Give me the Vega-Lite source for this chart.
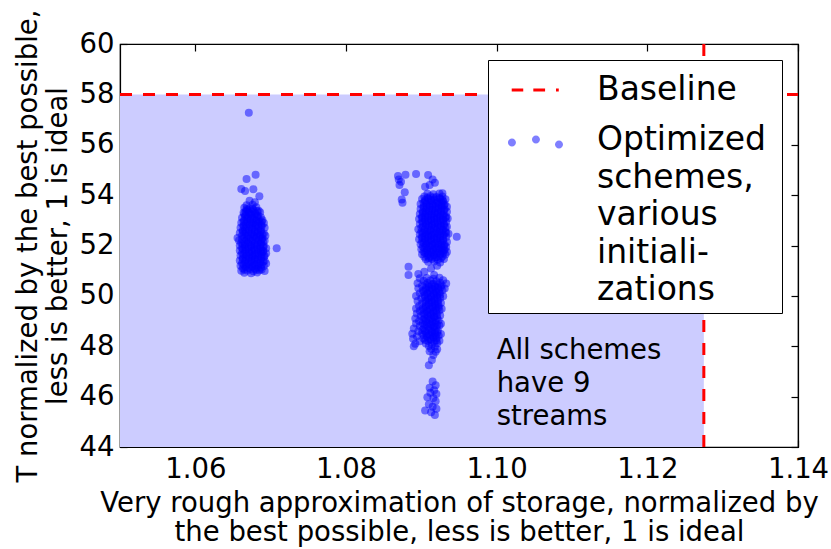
{
  "$schema": "https://vega.github.io/schema/vega-lite/v6.json",
  "width": 678,
  "height": 403,
  "autosize": {"type": "none"},
  "padding": {"left": 120, "top": 44, "right": 33, "bottom": 102},
  "background": "white",
  "config": {
    "font": "DejaVu Sans",
    "view": {"stroke": "black", "strokeWidth": 1.2},
    "axis": {"grid": false, "domainColor": "black", "tickColor": "black", "labelColor": "black", "titleColor": "black", "labelFont": "DejaVu Sans", "titleFont": "DejaVu Sans", "labelFontSize": 27.5, "titleFontSize": 27.5, "titleFontWeight": "normal", "domainWidth": 1.2, "tickWidth": 1.2}
  },
  "datasets": {
    "pts": [
      {"x":1.0671,"y":57.27},{"x":1.0680,"y":54.81},{"x":1.0668,"y":54.64},{"x":1.0661,"y":54.24},{"x":1.0666,"y":54.16},{"x":1.0677,"y":54.23},{"x":1.0685,"y":53.96},{"x":1.0708,"y":51.89},{"x":1.0672,"y":53.78},{"x":1.0679,"y":53.72},
      {"x":1.0668,"y":53.60},{"x":1.0676,"y":53.62},
      {"x":1.0665,"y":53.50},{"x":1.0672,"y":53.48},{"x":1.0681,"y":53.52},
      {"x":1.0669,"y":53.40},{"x":1.0677,"y":53.41},{"x":1.0684,"y":53.38},
      {"x":1.0664,"y":53.30},{"x":1.0671,"y":53.31},{"x":1.0679,"y":53.29},{"x":1.0686,"y":53.32},
      {"x":1.0667,"y":53.20},{"x":1.0675,"y":53.22},{"x":1.0683,"y":53.19},
      {"x":1.0662,"y":53.10},{"x":1.0670,"y":53.11},{"x":1.0678,"y":53.08},{"x":1.0687,"y":53.12},
      {"x":1.0665,"y":53.00},{"x":1.0673,"y":53.02},{"x":1.0681,"y":52.99},{"x":1.0689,"y":53.01},
      {"x":1.0661,"y":52.90},{"x":1.0669,"y":52.91},{"x":1.0677,"y":52.88},{"x":1.0685,"y":52.92},{"x":1.0691,"y":52.89},
      {"x":1.0664,"y":52.80},{"x":1.0672,"y":52.82},{"x":1.0680,"y":52.79},{"x":1.0688,"y":52.81},
      {"x":1.0660,"y":52.70},{"x":1.0668,"y":52.71},{"x":1.0676,"y":52.69},{"x":1.0684,"y":52.72},{"x":1.0692,"y":52.70},
      {"x":1.0663,"y":52.60},{"x":1.0671,"y":52.61},{"x":1.0679,"y":52.58},{"x":1.0687,"y":52.62},
      {"x":1.0659,"y":52.50},{"x":1.0667,"y":52.52},{"x":1.0675,"y":52.49},{"x":1.0683,"y":52.51},{"x":1.0691,"y":52.48},
      {"x":1.0662,"y":52.40},{"x":1.0670,"y":52.41},{"x":1.0678,"y":52.38},{"x":1.0686,"y":52.42},{"x":1.0693,"y":52.39},
      {"x":1.0656,"y":52.30},{"x":1.0665,"y":52.31},{"x":1.0673,"y":52.29},{"x":1.0681,"y":52.32},{"x":1.0689,"y":52.28},
      {"x":1.0658,"y":52.20},{"x":1.0668,"y":52.21},{"x":1.0676,"y":52.18},{"x":1.0684,"y":52.22},{"x":1.0692,"y":52.19},
      {"x":1.0661,"y":52.10},{"x":1.0670,"y":52.11},{"x":1.0679,"y":52.08},{"x":1.0687,"y":52.12},
      {"x":1.0659,"y":52.00},{"x":1.0666,"y":52.02},{"x":1.0674,"y":51.99},{"x":1.0682,"y":52.01},{"x":1.0691,"y":51.98},
      {"x":1.0662,"y":51.90},{"x":1.0670,"y":51.91},{"x":1.0678,"y":51.88},{"x":1.0686,"y":51.92},{"x":1.0694,"y":51.89},
      {"x":1.0659,"y":51.80},{"x":1.0667,"y":51.81},{"x":1.0675,"y":51.78},{"x":1.0683,"y":51.82},{"x":1.0690,"y":51.79},
      {"x":1.0662,"y":51.70},{"x":1.0671,"y":51.71},{"x":1.0679,"y":51.68},{"x":1.0687,"y":51.72},{"x":1.0694,"y":51.69},
      {"x":1.0660,"y":51.60},{"x":1.0668,"y":51.61},{"x":1.0676,"y":51.58},{"x":1.0684,"y":51.62},{"x":1.0692,"y":51.59},
      {"x":1.0663,"y":51.50},{"x":1.0671,"y":51.51},{"x":1.0679,"y":51.48},{"x":1.0688,"y":51.52},
      {"x":1.0659,"y":51.40},{"x":1.0667,"y":51.41},{"x":1.0675,"y":51.38},{"x":1.0683,"y":51.42},{"x":1.0692,"y":51.39},
      {"x":1.0662,"y":51.30},{"x":1.0670,"y":51.31},{"x":1.0678,"y":51.28},{"x":1.0686,"y":51.32},{"x":1.0694,"y":51.29},
      {"x":1.0660,"y":51.20},{"x":1.0668,"y":51.21},{"x":1.0676,"y":51.18},{"x":1.0684,"y":51.22},{"x":1.0691,"y":51.19},
      {"x":1.0663,"y":51.10},{"x":1.0671,"y":51.11},{"x":1.0679,"y":51.08},{"x":1.0687,"y":51.12},
      {"x":1.0661,"y":51.00},{"x":1.0669,"y":51.01},{"x":1.0677,"y":50.98},{"x":1.0685,"y":51.02},{"x":1.0692,"y":50.99},
      {"x":1.0665,"y":50.92},{"x":1.0674,"y":50.90},{"x":1.0682,"y":50.93},
      {"x":1.0668,"y":53.45},{"x":1.0676,"y":53.46},
      {"x":1.0667,"y":53.35},{"x":1.0675,"y":53.34},{"x":1.0682,"y":53.36},
      {"x":1.0665,"y":53.25},{"x":1.0672,"y":53.26},{"x":1.0680,"y":53.24},
      {"x":1.0666,"y":53.15},{"x":1.0674,"y":53.16},{"x":1.0682,"y":53.14},
      {"x":1.0668,"y":53.05},{"x":1.0676,"y":53.06},{"x":1.0684,"y":53.04},
      {"x":1.0664,"y":52.95},{"x":1.0673,"y":52.96},{"x":1.0681,"y":52.94},{"x":1.0688,"y":52.95},
      {"x":1.0667,"y":52.85},{"x":1.0675,"y":52.86},{"x":1.0683,"y":52.84},
      {"x":1.0664,"y":52.75},{"x":1.0672,"y":52.76},{"x":1.0680,"y":52.74},{"x":1.0688,"y":52.75},
      {"x":1.0666,"y":52.65},{"x":1.0675,"y":52.66},{"x":1.0683,"y":52.64},
      {"x":1.0663,"y":52.55},{"x":1.0671,"y":52.56},{"x":1.0679,"y":52.54},{"x":1.0687,"y":52.55},
      {"x":1.0665,"y":52.45},{"x":1.0674,"y":52.46},{"x":1.0682,"y":52.44},{"x":1.0689,"y":52.45},
      {"x":1.0668,"y":52.35},{"x":1.0677,"y":52.36},{"x":1.0685,"y":52.34},
      {"x":1.0662,"y":52.25},{"x":1.0671,"y":52.26},{"x":1.0680,"y":52.24},{"x":1.0688,"y":52.25},
      {"x":1.0665,"y":52.15},{"x":1.0674,"y":52.16},{"x":1.0683,"y":52.14},{"x":1.0690,"y":52.15},
      {"x":1.0663,"y":52.05},{"x":1.0671,"y":52.06},{"x":1.0679,"y":52.04},{"x":1.0687,"y":52.05},
      {"x":1.0666,"y":51.95},{"x":1.0674,"y":51.96},{"x":1.0682,"y":51.94},{"x":1.0690,"y":51.95},
      {"x":1.0663,"y":51.85},{"x":1.0671,"y":51.86},{"x":1.0679,"y":51.84},{"x":1.0687,"y":51.85},
      {"x":1.0666,"y":51.75},{"x":1.0675,"y":51.76},{"x":1.0683,"y":51.74},{"x":1.0690,"y":51.75},
      {"x":1.0664,"y":51.65},{"x":1.0672,"y":51.66},{"x":1.0680,"y":51.64},{"x":1.0688,"y":51.65},
      {"x":1.0667,"y":51.55},{"x":1.0675,"y":51.56},{"x":1.0683,"y":51.54},{"x":1.0691,"y":51.55},
      {"x":1.0663,"y":51.45},{"x":1.0671,"y":51.46},{"x":1.0679,"y":51.44},{"x":1.0687,"y":51.45},
      {"x":1.0666,"y":51.35},{"x":1.0674,"y":51.36},{"x":1.0682,"y":51.34},{"x":1.0690,"y":51.35},
      {"x":1.0664,"y":51.25},{"x":1.0672,"y":51.26},{"x":1.0680,"y":51.24},{"x":1.0688,"y":51.25},
      {"x":1.0667,"y":51.15},{"x":1.0675,"y":51.16},{"x":1.0683,"y":51.14},
      {"x":1.0665,"y":51.05},{"x":1.0673,"y":51.06},{"x":1.0681,"y":51.04},{"x":1.0688,"y":51.05},

      {"x":1.0869,"y":54.76},{"x":1.0879,"y":54.81},{"x":1.0893,"y":54.84},{"x":1.0871,"y":54.40},{"x":1.0873,"y":54.53},{"x":1.0878,"y":54.11},{"x":1.0874,"y":53.83},{"x":1.0875,"y":53.70},{"x":1.0870,"y":54.62},
      {"x":1.0909,"y":54.80},{"x":1.0911,"y":54.40},{"x":1.0918,"y":54.49},{"x":1.0905,"y":54.33},{"x":1.0928,"y":54.07},{"x":1.0915,"y":54.62},
      {"x":1.0947,"y":52.35},
      {"x":1.0883,"y":51.16},{"x":1.0883,"y":50.83},{"x":1.0896,"y":50.87},{"x":1.0904,"y":50.96},{"x":1.0917,"y":50.83},{"x":1.0913,"y":51.09},{"x":1.0921,"y":51.20},
      {"x":1.0908,"y":54.05},{"x":1.0916,"y":54.03},{"x":1.0924,"y":54.06},
      {"x":1.0904,"y":53.95},{"x":1.0912,"y":53.96},{"x":1.0920,"y":53.93},{"x":1.0928,"y":53.95},
      {"x":1.0901,"y":53.85},{"x":1.0909,"y":53.86},{"x":1.0917,"y":53.83},{"x":1.0925,"y":53.86},{"x":1.0932,"y":53.84},
      {"x":1.0905,"y":53.75},{"x":1.0913,"y":53.76},{"x":1.0921,"y":53.73},{"x":1.0929,"y":53.76},
      {"x":1.0899,"y":53.65},{"x":1.0907,"y":53.66},{"x":1.0915,"y":53.63},{"x":1.0923,"y":53.66},{"x":1.0931,"y":53.64},
      {"x":1.0903,"y":53.55},{"x":1.0911,"y":53.56},{"x":1.0919,"y":53.53},{"x":1.0927,"y":53.56},{"x":1.0934,"y":53.54},
      {"x":1.0899,"y":53.45},{"x":1.0907,"y":53.46},{"x":1.0915,"y":53.43},{"x":1.0923,"y":53.46},{"x":1.0931,"y":53.44},
      {"x":1.0902,"y":53.35},{"x":1.0910,"y":53.36},{"x":1.0918,"y":53.33},{"x":1.0926,"y":53.36},{"x":1.0934,"y":53.34},
      {"x":1.0898,"y":53.25},{"x":1.0906,"y":53.26},{"x":1.0914,"y":53.23},{"x":1.0922,"y":53.26},{"x":1.0930,"y":53.24},
      {"x":1.0901,"y":53.15},{"x":1.0909,"y":53.16},{"x":1.0917,"y":53.13},{"x":1.0925,"y":53.16},{"x":1.0933,"y":53.14},
      {"x":1.0897,"y":53.05},{"x":1.0905,"y":53.06},{"x":1.0913,"y":53.03},{"x":1.0921,"y":53.06},{"x":1.0929,"y":53.04},{"x":1.0935,"y":53.07},
      {"x":1.0901,"y":52.95},{"x":1.0909,"y":52.96},{"x":1.0917,"y":52.93},{"x":1.0925,"y":52.96},{"x":1.0933,"y":52.94},
      {"x":1.0898,"y":52.85},{"x":1.0906,"y":52.86},{"x":1.0914,"y":52.83},{"x":1.0922,"y":52.86},{"x":1.0930,"y":52.84},
      {"x":1.0902,"y":52.75},{"x":1.0910,"y":52.76},{"x":1.0918,"y":52.73},{"x":1.0926,"y":52.76},{"x":1.0934,"y":52.74},
      {"x":1.0896,"y":52.65},{"x":1.0905,"y":52.66},{"x":1.0913,"y":52.63},{"x":1.0921,"y":52.66},{"x":1.0929,"y":52.64},
      {"x":1.0900,"y":52.55},{"x":1.0908,"y":52.56},{"x":1.0916,"y":52.53},{"x":1.0924,"y":52.56},{"x":1.0932,"y":52.54},
      {"x":1.0898,"y":52.45},{"x":1.0906,"y":52.46},{"x":1.0914,"y":52.43},{"x":1.0922,"y":52.46},{"x":1.0930,"y":52.44},{"x":1.0936,"y":52.47},
      {"x":1.0901,"y":52.35},{"x":1.0909,"y":52.36},{"x":1.0917,"y":52.33},{"x":1.0925,"y":52.36},{"x":1.0933,"y":52.34},
      {"x":1.0897,"y":52.25},{"x":1.0905,"y":52.26},{"x":1.0913,"y":52.23},{"x":1.0921,"y":52.26},{"x":1.0929,"y":52.24},
      {"x":1.0901,"y":52.15},{"x":1.0909,"y":52.16},{"x":1.0917,"y":52.13},{"x":1.0925,"y":52.16},{"x":1.0934,"y":52.14},
      {"x":1.0899,"y":52.05},{"x":1.0907,"y":52.06},{"x":1.0915,"y":52.03},{"x":1.0923,"y":52.06},{"x":1.0931,"y":52.04},
      {"x":1.0902,"y":51.95},{"x":1.0910,"y":51.96},{"x":1.0918,"y":51.93},{"x":1.0926,"y":51.96},{"x":1.0933,"y":51.94},
      {"x":1.0900,"y":51.85},{"x":1.0908,"y":51.86},{"x":1.0916,"y":51.83},{"x":1.0924,"y":51.86},{"x":1.0931,"y":51.84},
      {"x":1.0903,"y":51.75},{"x":1.0911,"y":51.76},{"x":1.0919,"y":51.73},{"x":1.0927,"y":51.76},{"x":1.0934,"y":51.74},
      {"x":1.0901,"y":51.65},{"x":1.0909,"y":51.66},{"x":1.0917,"y":51.63},{"x":1.0925,"y":51.66},{"x":1.0932,"y":51.64},
      {"x":1.0904,"y":51.55},{"x":1.0912,"y":51.56},{"x":1.0920,"y":51.53},{"x":1.0928,"y":51.56},
      {"x":1.0906,"y":51.45},{"x":1.0914,"y":51.46},{"x":1.0922,"y":51.43},{"x":1.0930,"y":51.46},
      {"x":1.0909,"y":51.35},{"x":1.0917,"y":51.36},{"x":1.0925,"y":51.33},
      {"x":1.0908,"y":53.90},{"x":1.0916,"y":53.91},{"x":1.0924,"y":53.89},
      {"x":1.0905,"y":53.80},{"x":1.0913,"y":53.81},{"x":1.0921,"y":53.79},{"x":1.0928,"y":53.80},
      {"x":1.0903,"y":53.70},{"x":1.0911,"y":53.71},{"x":1.0919,"y":53.69},{"x":1.0927,"y":53.70},
      {"x":1.0907,"y":53.60},{"x":1.0915,"y":53.61},{"x":1.0923,"y":53.59},{"x":1.0930,"y":53.60},
      {"x":1.0903,"y":53.50},{"x":1.0911,"y":53.51},{"x":1.0919,"y":53.49},{"x":1.0927,"y":53.50},
      {"x":1.0906,"y":53.40},{"x":1.0914,"y":53.41},{"x":1.0922,"y":53.39},{"x":1.0930,"y":53.40},
      {"x":1.0902,"y":53.30},{"x":1.0910,"y":53.31},{"x":1.0918,"y":53.29},{"x":1.0926,"y":53.30},
      {"x":1.0905,"y":53.20},{"x":1.0913,"y":53.21},{"x":1.0921,"y":53.19},{"x":1.0929,"y":53.20},
      {"x":1.0901,"y":53.10},{"x":1.0909,"y":53.11},{"x":1.0917,"y":53.09},{"x":1.0925,"y":53.10},{"x":1.0932,"y":53.11},
      {"x":1.0905,"y":53.00},{"x":1.0913,"y":53.01},{"x":1.0921,"y":52.99},{"x":1.0929,"y":53.00},
      {"x":1.0902,"y":52.90},{"x":1.0910,"y":52.91},{"x":1.0918,"y":52.89},{"x":1.0926,"y":52.90},
      {"x":1.0906,"y":52.80},{"x":1.0914,"y":52.81},{"x":1.0922,"y":52.79},{"x":1.0930,"y":52.80},
      {"x":1.0900,"y":52.70},{"x":1.0909,"y":52.71},{"x":1.0917,"y":52.69},{"x":1.0925,"y":52.70},{"x":1.0932,"y":52.71},
      {"x":1.0904,"y":52.60},{"x":1.0912,"y":52.61},{"x":1.0920,"y":52.59},{"x":1.0928,"y":52.60},
      {"x":1.0902,"y":52.50},{"x":1.0910,"y":52.51},{"x":1.0918,"y":52.49},{"x":1.0926,"y":52.50},{"x":1.0933,"y":52.51},
      {"x":1.0905,"y":52.40},{"x":1.0913,"y":52.41},{"x":1.0921,"y":52.39},{"x":1.0929,"y":52.40},
      {"x":1.0901,"y":52.30},{"x":1.0909,"y":52.31},{"x":1.0917,"y":52.29},{"x":1.0925,"y":52.30},
      {"x":1.0905,"y":52.20},{"x":1.0913,"y":52.21},{"x":1.0921,"y":52.19},{"x":1.0929,"y":52.20},
      {"x":1.0903,"y":52.10},{"x":1.0911,"y":52.11},{"x":1.0919,"y":52.09},{"x":1.0927,"y":52.10},
      {"x":1.0906,"y":52.00},{"x":1.0914,"y":52.01},{"x":1.0922,"y":51.99},{"x":1.0930,"y":52.00},
      {"x":1.0904,"y":51.90},{"x":1.0912,"y":51.91},{"x":1.0920,"y":51.89},{"x":1.0928,"y":51.90},
      {"x":1.0907,"y":51.80},{"x":1.0915,"y":51.81},{"x":1.0923,"y":51.79},{"x":1.0930,"y":51.80},
      {"x":1.0905,"y":51.70},{"x":1.0913,"y":51.71},{"x":1.0921,"y":51.69},{"x":1.0929,"y":51.70},
      {"x":1.0908,"y":51.60},{"x":1.0916,"y":51.61},{"x":1.0924,"y":51.59},
      {"x":1.0910,"y":51.50},{"x":1.0918,"y":51.51},{"x":1.0926,"y":51.49},

      {"x":1.0898,"y":50.70},{"x":1.0907,"y":50.71},{"x":1.0916,"y":50.68},{"x":1.0924,"y":50.72},
      {"x":1.0903,"y":50.60},{"x":1.0912,"y":50.61},{"x":1.0920,"y":50.58},{"x":1.0929,"y":50.62},
      {"x":1.0895,"y":50.50},{"x":1.0908,"y":50.51},{"x":1.0916,"y":50.48},{"x":1.0925,"y":50.52},{"x":1.0933,"y":50.49},
      {"x":1.0901,"y":50.40},{"x":1.0910,"y":50.41},{"x":1.0918,"y":50.38},{"x":1.0927,"y":50.42},
      {"x":1.0896,"y":50.30},{"x":1.0906,"y":50.31},{"x":1.0914,"y":50.28},{"x":1.0922,"y":50.32},{"x":1.0931,"y":50.29},
      {"x":1.0902,"y":50.20},{"x":1.0911,"y":50.21},{"x":1.0919,"y":50.18},{"x":1.0928,"y":50.22},
      {"x":1.0898,"y":50.10},{"x":1.0908,"y":50.11},{"x":1.0916,"y":50.08},{"x":1.0924,"y":50.12},
      {"x":1.0893,"y":50.00},{"x":1.0904,"y":50.01},{"x":1.0913,"y":49.98},{"x":1.0921,"y":50.02},{"x":1.0929,"y":49.99},
      {"x":1.0900,"y":49.90},{"x":1.0909,"y":49.91},{"x":1.0917,"y":49.88},{"x":1.0925,"y":49.92},
      {"x":1.0895,"y":49.80},{"x":1.0905,"y":49.81},{"x":1.0914,"y":49.78},{"x":1.0922,"y":49.82},
      {"x":1.0901,"y":49.70},{"x":1.0910,"y":49.71},{"x":1.0918,"y":49.68},{"x":1.0926,"y":49.72},
      {"x":1.0897,"y":49.60},{"x":1.0906,"y":49.61},{"x":1.0915,"y":49.58},{"x":1.0923,"y":49.62},
      {"x":1.0893,"y":49.50},{"x":1.0902,"y":49.51},{"x":1.0911,"y":49.48},{"x":1.0919,"y":49.52},{"x":1.0927,"y":49.49},
      {"x":1.0898,"y":49.40},{"x":1.0907,"y":49.41},{"x":1.0916,"y":49.38},{"x":1.0924,"y":49.42},
      {"x":1.0894,"y":49.30},{"x":1.0903,"y":49.31},{"x":1.0912,"y":49.28},{"x":1.0920,"y":49.32},
      {"x":1.0899,"y":49.20},{"x":1.0908,"y":49.21},{"x":1.0917,"y":49.18},{"x":1.0925,"y":49.22},
      {"x":1.0892,"y":49.10},{"x":1.0904,"y":49.11},{"x":1.0913,"y":49.08},{"x":1.0921,"y":49.12},
      {"x":1.0897,"y":49.00},{"x":1.0906,"y":49.01},{"x":1.0915,"y":48.98},{"x":1.0923,"y":49.02},
      {"x":1.0893,"y":48.90},{"x":1.0902,"y":48.91},{"x":1.0911,"y":48.88},{"x":1.0919,"y":48.92},{"x":1.0926,"y":48.89},
      {"x":1.0898,"y":48.80},{"x":1.0907,"y":48.81},{"x":1.0916,"y":48.78},{"x":1.0924,"y":48.82},
      {"x":1.0890,"y":48.70},{"x":1.0903,"y":48.71},{"x":1.0912,"y":48.68},{"x":1.0920,"y":48.72},
      {"x":1.0896,"y":48.60},{"x":1.0905,"y":48.61},{"x":1.0914,"y":48.58},{"x":1.0922,"y":48.62},
      {"x":1.0888,"y":48.50},{"x":1.0901,"y":48.51},{"x":1.0910,"y":48.48},{"x":1.0918,"y":48.52},{"x":1.0926,"y":48.49},
      {"x":1.0894,"y":48.40},{"x":1.0907,"y":48.41},{"x":1.0916,"y":48.38},{"x":1.0923,"y":48.42},
      {"x":1.0889,"y":48.30},{"x":1.0903,"y":48.31},{"x":1.0912,"y":48.28},{"x":1.0920,"y":48.32},
      {"x":1.0898,"y":48.20},{"x":1.0909,"y":48.21},{"x":1.0917,"y":48.18},{"x":1.0924,"y":48.22},
      {"x":1.0892,"y":48.10},{"x":1.0906,"y":48.11},{"x":1.0914,"y":48.08},{"x":1.0921,"y":48.12},
      {"x":1.0890,"y":48.00},{"x":1.0910,"y":48.01},{"x":1.0918,"y":47.98},
      {"x":1.0913,"y":47.90},{"x":1.0921,"y":47.88},
      {"x":1.0911,"y":47.80},{"x":1.0919,"y":47.78},
      {"x":1.0916,"y":47.65},{"x":1.0914,"y":47.45},{"x":1.0910,"y":47.25},
      {"x":1.0905,"y":50.45},{"x":1.0914,"y":50.46},{"x":1.0922,"y":50.44},
      {"x":1.0910,"y":50.35},{"x":1.0918,"y":50.36},{"x":1.0926,"y":50.34},
      {"x":1.0906,"y":50.25},{"x":1.0915,"y":50.26},{"x":1.0923,"y":50.24},
      {"x":1.0903,"y":50.15},{"x":1.0912,"y":50.16},{"x":1.0920,"y":50.14},
      {"x":1.0908,"y":50.05},{"x":1.0917,"y":50.06},{"x":1.0925,"y":50.04},
      {"x":1.0905,"y":49.95},{"x":1.0913,"y":49.96},{"x":1.0921,"y":49.94},
      {"x":1.0910,"y":49.85},{"x":1.0918,"y":49.86},
      {"x":1.0906,"y":49.75},{"x":1.0914,"y":49.76},{"x":1.0922,"y":49.74},
      {"x":1.0910,"y":49.65},{"x":1.0919,"y":49.66},
      {"x":1.0906,"y":49.55},{"x":1.0915,"y":49.56},{"x":1.0923,"y":49.54},
      {"x":1.0903,"y":49.45},{"x":1.0912,"y":49.46},{"x":1.0920,"y":49.44},
      {"x":1.0908,"y":49.35},{"x":1.0916,"y":49.36},
      {"x":1.0904,"y":49.25},{"x":1.0913,"y":49.26},{"x":1.0921,"y":49.24},
      {"x":1.0909,"y":49.15},{"x":1.0917,"y":49.16},
      {"x":1.0902,"y":49.05},{"x":1.0911,"y":49.06},{"x":1.0919,"y":49.04},
      {"x":1.0907,"y":48.95},{"x":1.0915,"y":48.96},
      {"x":1.0904,"y":48.85},{"x":1.0913,"y":48.86},{"x":1.0921,"y":48.84},
      {"x":1.0909,"y":48.75},{"x":1.0917,"y":48.76},
      {"x":1.0901,"y":48.65},{"x":1.0910,"y":48.66},{"x":1.0918,"y":48.64},
      {"x":1.0906,"y":48.55},{"x":1.0914,"y":48.56},{"x":1.0921,"y":48.54},
      {"x":1.0903,"y":48.45},{"x":1.0912,"y":48.46},{"x":1.0919,"y":48.44},
      {"x":1.0908,"y":48.35},{"x":1.0916,"y":48.36},
      {"x":1.0905,"y":48.25},{"x":1.0913,"y":48.26},{"x":1.0920,"y":48.24},

      {"x":1.0915,"y":46.60},{"x":1.0919,"y":46.45},{"x":1.0911,"y":46.35},{"x":1.0917,"y":46.25},{"x":1.0920,"y":46.10},{"x":1.0912,"y":46.15},
      {"x":1.0908,"y":45.98},{"x":1.0916,"y":45.95},{"x":1.0919,"y":45.82},{"x":1.0910,"y":45.70},{"x":1.0915,"y":45.60},{"x":1.0920,"y":45.52},
      {"x":1.0905,"y":45.45},{"x":1.0913,"y":45.38},{"x":1.0918,"y":45.27}
    ]
  },
  "resolve": {"axis": {"x": "independent", "y": "independent"}},
  "layer": [
    {
      "data": {"values": [{}]},
      "mark": {"type": "rect", "fill": "#ccccff"},
      "encoding": {
        "x": {"datum": 1.05, "type": "quantitative", "scale": {"domain": [1.05, 1.14], "nice": false, "zero": false},
          "axis": {"orient": "bottom", "values": [1.06, 1.08, 1.10, 1.12, 1.14], "format": ".2f", "tickSize": -7, "labelPadding": 15, "labelFlush": false, "labelOverlap": false,
            "title": ["Very rough approximation of storage, normalized by", "the best possible, less is better, 1 is ideal"], "titleLineHeight": 29, "titlePadding": 7}},
        "x2": {"datum": 1.1275},
        "y": {"datum": 44, "type": "quantitative", "scale": {"domain": [44, 60], "nice": false, "zero": false},
          "axis": {"orient": "left", "values": [44, 46, 48, 50, 52, 54, 56, 58, 60], "tickSize": -7, "labelPadding": 13, "labelFlush": false, "labelOverlap": false,
            "title": ["T normalized by the best possible,", "less is better, 1 is ideal"], "titleLineHeight": 30, "titlePadding": 7}},
        "y2": {"datum": 58}
      }
    },
    {
      "data": {"name": "pts"},
      "mark": {"type": "point", "filled": true, "shape": "circle", "size": 64, "opacity": 0.5, "strokeWidth": 0},
      "encoding": {
        "x": {"field": "x", "type": "quantitative", "axis": null},
        "y": {"field": "y", "type": "quantitative", "axis": null},
        "color": {"datum": "Optimized", "type": "nominal"}
      }
    },
    {
      "data": {"values": [{}]},
      "mark": {"type": "rule", "strokeDash": [12, 11], "strokeWidth": 3},
      "encoding": {
        "x": {"datum": 1.05, "type": "quantitative", "axis": null},
        "x2": {"datum": 1.14},
        "y": {"datum": 58, "type": "quantitative", "axis": null},
        "color": {"datum": "Baseline", "type": "nominal",
          "scale": {"domain": ["Baseline", "Optimized"], "range": ["#ff0000", "#0000ff"]},
          "legend": {
            "orient": "none", "legendX": 368, "legendY": 16,
            "title": " ", "titleOrient": "right", "titlePadding": 10, "titleFontSize": 1,
            "labelExpr": "datum.label == 'Baseline' ? 'Baseline' : ['Optimized','schemes,','various','initiali-','zations']",
            "labelFont": "DejaVu Sans", "labelFontSize": 33, "labelColor": "black", "labelLimit": 400,
            "symbolSize": 2304, "symbolOffset": 17, "labelOffset": 38, "rowPadding": 9,
            "padding": 6, "strokeColor": "black", "fillColor": "white", "cornerRadius": 0,
            "encode": {
              "symbols": {"update": {
                "shape": {"signal": "datum.value == 'Baseline' ? 'M-0.97,-0.0625H-0.49V0.0625H-0.97Z M-0.07,-0.0625H0.42V0.0625H-0.07Z M0.875,-0.0625H0.99V0.0625H0.875Z' : 'M-1.127,0.1a0.167,0.167 0 1,0 0.334,0a0.167,0.167 0 1,0 -0.334,0Z M-0.127,-0.02a0.167,0.167 0 1,0 0.334,0a0.167,0.167 0 1,0 -0.334,0Z M0.833,0.19a0.167,0.167 0 1,0 0.334,0a0.167,0.167 0 1,0 -0.334,0Z'"},
                "fill": {"signal": "datum.value == 'Baseline' ? '#ff0000' : '#0000ff'"},
                "fillOpacity": {"signal": "datum.value == 'Baseline' ? 1 : 0.5"},
                "opacity": {"value": 1},
                "strokeWidth": {"value": 0}
              }},
              "labels": {"update": {"lineHeight": {"value": 37.5}}}
            }
          }
        }
      }
    },
    {
      "data": {"values": [{}]},
      "mark": {"type": "rule", "strokeDash": [12, 11], "strokeWidth": 3},
      "encoding": {
        "x": {"datum": 1.1275, "type": "quantitative", "axis": null},
        "y": {"datum": 44, "type": "quantitative", "axis": null},
        "y2": {"datum": 60},
        "color": {"datum": "Baseline", "type": "nominal"}
      }
    },
    {
      "data": {"values": [{}]},
      "mark": {"type": "text", "text": ["All schemes", "have 9", "streams"], "align": "left", "baseline": "alphabetic", "font": "DejaVu Sans", "fontSize": 27.5, "lineHeight": 33, "color": "black"},
      "encoding": {
        "x": {"datum": 1.10, "type": "quantitative",
          "axis": {"orient": "top", "values": [1.06, 1.08, 1.10, 1.12, 1.14], "tickSize": -7, "labels": false, "title": null}},
        "y": {"datum": 47.49, "type": "quantitative",
          "axis": {"orient": "right", "values": [44, 46, 48, 50, 52, 54, 56, 58, 60], "tickSize": -7, "labels": false, "title": null}}
      }
    }
  ]
}
